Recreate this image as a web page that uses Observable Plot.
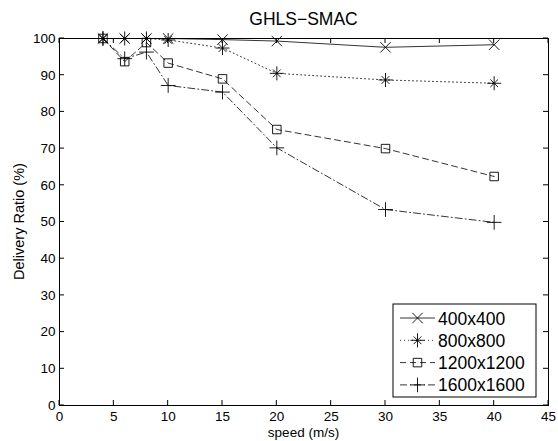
<!DOCTYPE html>
<html><head><meta charset="utf-8">
<script src="https://cdn.jsdelivr.net/npm/d3@7"></script>
<script src="https://cdn.jsdelivr.net/npm/@observablehq/plot@0.6"></script>
<style>body{margin:0;background:#fff}</style>
</head><body><div id="chart"></div>
<script>
const speeds = [4, 6, 8, 10, 15, 20, 30, 40];
const seriesNames = ["400x400", "800x800", "1200x1200", "1600x1600"];
const v400 = [100, 100, 100, 100, 99.7, 99.3, 97.6, 98.3];
const v800 = [100, 100, 100, 99.6, 97.4, 90.5, 88.7, 87.8];
const v1200 = [100, 93.7, 98.9, 93.3, 89.0, 75.2, 70.0, 62.4];
const v1600 = [100, 94.5, 96.3, 87.2, 85.4, 70.2, 53.4, 49.9];
const xTicks = d3.range(0, 46, 5);
const yTicks = d3.range(0, 101, 10);
const title = "GHLS\u2212SMAC";
const xLabel = "speed (m/s)";
const yLabel = "Delivery Ratio (%)";

const allValues = [v400, v800, v1200, v1600];
// MATLAB-style '*' marker = plus + times overlaid
const symbols = [["times"], ["plus", "times"], ["square"], ["plus"]];
const symR = [[4.8], [4.6, 3.6], [4.8], [4.8]];
const dashes = [null, "1,3", "6,4", "7,3,1,3"];
const d3sym = {times: d3.symbolTimes, plus: d3.symbolPlus, square: d3.symbolSquare};

const data = [];
seriesNames.forEach((s, i) => speeds.forEach((x, j) => data.push({series: s, i, x, y: allValues[i][j]})));

const font = "'Liberation Sans', Arial, Helvetica, sans-serif";
const marks = [Plot.frame({stroke: "#000", strokeWidth: 1})];
seriesNames.forEach((s, i) => {
  const d = data.filter(e => e.series === s);
  marks.push(Plot.line(d, {x: "x", y: "y", stroke: "#000", strokeWidth: 0.8, strokeDasharray: dashes[i]}));
  symbols[i].forEach((sym, k) => {
    marks.push(Plot.dot(d, {x: "x", y: "y", symbol: () => sym, r: symR[i][k], stroke: "#000", fill: "none", strokeWidth: 0.9}));
  });
});
marks.push(Plot.axisX(xTicks, {tickSize: 0, tickPadding: 6, fontSize: 13.5}));
marks.push(Plot.axisY(yTicks, {tickSize: 0, tickPadding: 4, fontSize: 13.5}));

const plot = Plot.plot({
  width: 558, height: 441,
  marginLeft: 59, marginRight: 10, marginTop: 38, marginBottom: 36,
  style: {fontFamily: font, fontSize: "13.5px", color: "#000", background: "#fff"},
  x: {domain: [0, 45], label: null},
  y: {domain: [0, 100], label: null},
  marks
});
document.getElementById("chart").appendChild(plot);

const svg = d3.select(plot);
const xs = plot.scale("x"), ys = plot.scale("y");
const X0 = xs.apply(0), X1 = xs.apply(45), Y0 = ys.apply(0), Y1 = ys.apply(100);
const tk = 5;
const g = svg.append("g").attr("stroke", "#000").attr("stroke-width", 1);
xTicks.forEach(t => {
  const px = xs.apply(t);
  g.append("line").attr("x1", px).attr("x2", px).attr("y1", Y0).attr("y2", Y0 - tk);
  g.append("line").attr("x1", px).attr("x2", px).attr("y1", Y1).attr("y2", Y1 + tk);
});
yTicks.forEach(t => {
  const py = ys.apply(t);
  g.append("line").attr("y1", py).attr("y2", py).attr("x1", X0).attr("x2", X0 + tk);
  g.append("line").attr("y1", py).attr("y2", py).attr("x1", X1).attr("x2", X1 - tk);
});

svg.append("text").attr("x", (X0 + X1) / 2).attr("y", 25).attr("text-anchor", "middle")
  .attr("font-family", font).attr("font-size", 17.5).text(title);
svg.append("text").attr("x", (X0 + X1) / 2).attr("y", 437).attr("text-anchor", "middle")
  .attr("font-family", font).attr("font-size", 13.5).text(xLabel);
svg.append("text").attr("transform", `translate(24,${(Y0 + Y1) / 2}) rotate(-90)`).attr("text-anchor", "middle")
  .attr("font-family", font).attr("font-size", 14.5).text(yLabel);

// legend
const lg = svg.append("g");
const bx = 393, by = 304, bw = 143, bh = 93;
lg.append("rect").attr("x", bx).attr("y", by).attr("width", bw).attr("height", bh)
  .attr("fill", "#fff").attr("stroke", "#000").attr("stroke-width", 1);
seriesNames.forEach((s, i) => {
  const yy = by + 14 + i * 22.3;
  lg.append("line").attr("x1", bx + 7).attr("x2", bx + 42).attr("y1", yy).attr("y2", yy)
    .attr("stroke", "#000").attr("stroke-width", 0.8).attr("stroke-dasharray", dashes[i]);
  symbols[i].forEach((sym, k) => {
    const r = symR[i][k];
    lg.append("path").attr("transform", `translate(${bx + 24.5},${yy})`)
      .attr("d", d3.symbol().type(d3sym[sym]).size(Math.PI * r * r)())
      .attr("fill", "none").attr("stroke", "#000").attr("stroke-width", 0.9);
  });
  lg.append("text").attr("x", bx + 45).attr("y", yy + 6.5).attr("font-family", font)
    .attr("text-anchor", "start").attr("font-size", 17.5).text(s);
});
</script></body></html>
